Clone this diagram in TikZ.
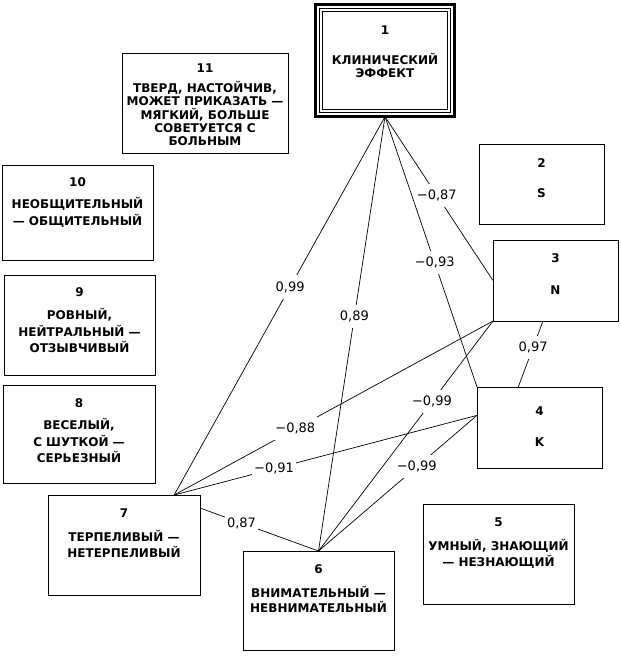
\documentclass[tikz,border=0pt]{standalone}
\usepackage{fontspec}
\setmainfont{DejaVu Sans}
\usetikzlibrary{calc}
\tikzset{
  box/.style={draw, line width=1pt, inner sep=0pt, outer sep=0pt},
  boxtext/.style={align=center, inner sep=0pt, anchor=north, font=\bfseries\fontsize{12}{#1}\selectfont},
  boxtext/.default=16.5,
  link/.style={line width=0.7pt},
  coef/.style={fill=white, inner xsep=2pt, inner ysep=6pt, font=\fontsize{13}{15}\selectfont}
}
\begin{document}
\begin{tikzpicture}[x=1pt,y=-1pt]
	\useasboundingbox (0,0) rectangle (621,656);
	% factor boxes
	\node[box, line width=2.7pt, minimum width=139.4pt, minimum height=112.4pt] (b1) at (385,60.5) {};
	\draw[line width=1.3pt] ([shift={(4.35,4.35)}]b1.north west) rectangle ([shift={(-4.35,-4.35)}]b1.south east);
	\draw[line width=1.3pt] ([shift={(6.95,6.95)}]b1.north west) rectangle ([shift={(-6.95,-6.95)}]b1.south east);
	\node[boxtext=13.3] (t1) at (385,25.6) {1\\[16.7pt]КЛИНИЧЕСКИЙ\\ЭФФЕКТ};
	\node[box, minimum width=125pt, minimum height=80pt] (b2) at (541.5,184) {};
	\node[boxtext] (t2) at (541.5,158.6) {2\\[13.5pt]S};
	\node[box, minimum width=125pt, minimum height=81pt] (b3) at (555.5,280.5) {};
	\node[boxtext] (t3) at (555.5,253.6) {3\\[15.5pt]N};
	\node[box, minimum width=125pt, minimum height=81pt] (b4) at (539.5,427.5) {};
	\node[boxtext] (t4) at (539.5,406.6) {4\\[14.5pt]K};
	\node[box, minimum width=151pt, minimum height=100pt] (b5) at (498.5,554) {};
	\node[boxtext=16] (t5) at (498.5,517.6) {5\\[8pt]УМНЫЙ, ЗНАЮЩИЙ\\— НЕЗНАЮЩИЙ};
	\node[box, minimum width=151pt, minimum height=99pt] (b6) at (318.5,600.5) {};
	\node[boxtext=15] (t6) at (318.5,564.6) {6\\[9pt]ВНИМАТЕЛЬНЫЙ —\\НЕВНИМАТЕЛЬНЫЙ};
	\node[box, minimum width=152pt, minimum height=100pt] (b7) at (124,545) {};
	\node[boxtext=16] (t7) at (124,508.6) {7\\[8pt]ТЕРПЕЛИВЫЙ —\\НЕТЕРПЕЛИВЫЙ};
	\node[box, minimum width=152pt, minimum height=98pt] (b8) at (79,434) {};
	\node[boxtext] (t8) at (79,398.6) {8\\[5.5pt]ВЕСЕЛЫЙ,\\С ШУТКОЙ —\\СЕРЬЕЗНЫЙ};
	\node[box, minimum width=151pt, minimum height=100pt] (b9) at (79.5,325) {};
	\node[boxtext] (t9) at (79.5,287.6) {9\\[6.5pt]РОВНЫЙ,\\НЕЙТРАЛЬНЫЙ —\\ОТЗЫВЧИВЫЙ};
	\node[box, minimum width=151pt, minimum height=95pt] (b10) at (77.5,212.5) {};
	\node[boxtext=16.7] (t10) at (77.5,177.6) {10\\[5.3pt]НЕОБЩИТЕЛЬНЫЙ\\— ОБЩИТЕЛЬНЫЙ};
	\node[box, minimum width=166pt, minimum height=100pt] (b11) at (205,103) {};
	\node[boxtext=13.3] (t11) at (205,63.6) {11\\[6.7pt]ТВЕРД, НАСТОЙЧИВ,\\МОЖЕТ ПРИКАЗАТЬ —\\МЯГКИЙ, БОЛЬШЕ\\СОВЕТУЕТСЯ С\\БОЛЬНЫМ};
	% ends of the links
	\coordinate (p7) at ($(b7.north west)!0.83!(b7.north east)$);
	\coordinate (p7r) at ($(b7.north east)!0.13!(b7.south east)$);
	\coordinate (p3b) at ($(b3.south west)!0.4!(b3.south east)$);
	\coordinate (p4t) at ($(b4.north west)!0.33!(b4.north east)$);
	\coordinate (p4l) at ($(b4.north west)!0.35!(b4.south west)$);
	% correlations
	\draw[link] (b1.south) -- node[coef, pos=0.45] {0,99} (p7);
	\draw[link] (b1.south) -- node[coef, pos=0.46] {0,89} (b6.north);
	\draw[link] (b1.south) -- node[coef, pos=0.48] {−0,87} (b3.west);
	\draw[link] (b1.south) -- node[coef, pos=0.54] {−0,93} (b4.north west);
	\draw[link] (b3.south west) -- node[coef, pos=0.62] {−0,88} (p7);
	\draw[link] (b3.south west) -- node[coef, pos=0.35] {−0,99} (b6.north);
	\draw[link] (p4l) -- node[coef, pos=0.67] {−0,91} (p7);
	\draw[link] (p4l) -- node[coef, pos=0.38] {−0,99} (b6.north);
	\draw[link] (p7r) -- node[coef, pos=0.35] {0,87} (b6.north);
	\draw[link] (p3b) -- node[coef, pos=0.4] {0,97} (p4t);
\end{tikzpicture}
\end{document}
